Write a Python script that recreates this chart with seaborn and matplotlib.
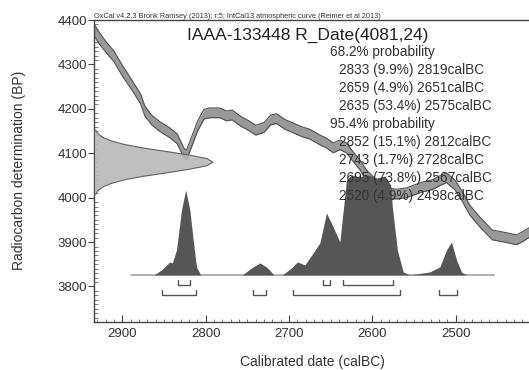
import matplotlib
matplotlib.use("Agg")
import matplotlib.pyplot as plt
from matplotlib.ticker import MultipleLocator
import seaborn as sns
import pandas as pd

# IntCal13 curve (calBC, BP centre)
curve_cal = [2934, 2928, 2920, 2910, 2900, 2888, 2878, 2873, 2865, 2855, 2843, 2834,
             2826, 2823, 2817, 2810, 2802, 2795, 2783, 2775, 2768, 2758, 2750, 2740,
             2730, 2722, 2715, 2705, 2696, 2684, 2675, 2663, 2655, 2647, 2639, 2631,
             2623, 2615, 2607, 2595, 2583, 2571, 2559, 2549, 2540, 2528, 2519, 2511,
             2501, 2493, 2483, 2471, 2456, 2439, 2427, 2420, 2400]
curve_bp = [4378, 4360, 4340, 4318, 4286, 4252, 4222, 4195, 4175, 4160, 4146, 4132,
            4100, 4096, 4125, 4160, 4188, 4191, 4191, 4184, 4186, 4172, 4164, 4152,
            4158, 4175, 4178, 4165, 4158, 4148, 4143, 4130, 4123, 4112, 4119, 4112,
            4092, 4074, 4051, 4029, 4011, 4008, 4011, 4018, 4024, 4029, 4038, 4045,
            4029, 4006, 3972, 3945, 3916, 3910, 3905, 3912, 3935]
curve_err = [13, 13, 12, 12, 12, 11, 11, 11, 11, 11, 11, 11,
             11, 11, 11, 11, 11, 11, 11, 11, 11, 11, 11, 11,
             11, 11, 11, 11, 11, 11, 11, 11, 11, 11, 11, 11,
             11, 11, 11, 11, 11, 11, 11, 11, 11, 11, 11, 11,
             11, 11, 11, 11, 11, 11, 11, 11, 11]

# measured date, drawn on the y axis
date_bp = [4153, 4145, 4137, 4129, 4121, 4113, 4105, 4097, 4089, 4081, 4073, 4065,
           4057, 4049, 4041, 4033, 4025, 4017, 4009]
date_dens = [0.01, 0.03, 0.07, 0.14, 0.25, 0.41, 0.61, 0.80, 0.95, 1.00, 0.95, 0.80,
             0.61, 0.41, 0.25, 0.14, 0.07, 0.03, 0.01]

# calibrated probability
post_cal = [2862, 2853, 2843, 2840, 2835, 2829, 2824, 2819, 2815, 2811, 2806, 2756,
            2745, 2735, 2727, 2718, 2708, 2697, 2690, 2681, 2671, 2663, 2655, 2647,
            2639, 2631, 2625, 2615, 2605, 2595, 2585, 2578, 2576, 2570, 2563, 2555,
            2531, 2519, 2511, 2505, 2499, 2493, 2487]
post_dens = [0, 0.05, 0.13, 0.12, 0.25, 0.65, 0.85, 0.65, 0.35, 0.08, 0, 0,
             0.07, 0.12, 0.08, 0, 0, 0.07, 0.13, 0.10, 0.22, 0.32, 0.62, 0.48,
             0.33, 0.95, 1.0, 0.98, 1.0, 0.97, 0.99, 0.9, 0.68, 0.25, 0.03, 0,
             0.03, 0.08, 0.25, 0.33, 0.15, 0.03, 0]

ranges_68 = [(2833, 2819), (2659, 2651), (2635, 2575)]
ranges_95 = [(2852, 2812), (2743, 2728), (2695, 2567), (2520, 2498)]

title = "IAAA-133448 R_Date(4081,24)"
lines_68 = ["2833 (9.9%) 2819calBC", "2659 (4.9%) 2651calBC", "2635 (53.4%) 2575calBC"]
lines_95 = ["2852 (15.1%) 2812calBC", "2743 (1.7%) 2728calBC",
            "2695 (73.8%) 2567calBC", "2520 (4.9%) 2498calBC"]

sns.set_theme(style="white")
plt.rcParams['font.family'] = ['Liberation Sans', 'DejaVu Sans']

fig = plt.figure(figsize=(5.29, 3.70), dpi=100)
ax = fig.add_axes([94 / 529, 48 / 370, 445 / 529, 302 / 370])

x0, x1 = 2934, 2400
base_bp = 3826
post_scale = 225
date_scale = 142

curve = pd.DataFrame({"cal": curve_cal, "bp": curve_bp, "err": curve_err})
curve["lo"] = curve["bp"] - curve["err"]
curve["hi"] = curve["bp"] + curve["err"]
ax.fill_between(curve["cal"], curve["lo"], curve["hi"], color="#999999", lw=0, zorder=2)
sns.lineplot(data=curve, x="cal", y="lo", color="#505050", lw=0.8, ax=ax, zorder=3)
sns.lineplot(data=curve, x="cal", y="hi", color="#505050", lw=0.8, ax=ax, zorder=3)

date = pd.DataFrame({"bp": date_bp, "dens": date_dens})
ax.fill_betweenx(date["bp"], x0, x0 - date["dens"] * date_scale,
                 color="#b8b8b8", alpha=0.9, edgecolor="#555555", lw=0.8, zorder=4)

post = pd.DataFrame({"cal": post_cal, "dens": post_dens})
ax.plot([2890, 2454], [base_bp, base_bp], color="#b0b0b0", lw=1.4, zorder=4)
ax.fill_between(post["cal"], base_bp, base_bp + post["dens"] * post_scale,
                color="#565656", lw=0, zorder=5)

for rows, ybar in ((ranges_68, 3804), (ranges_95, 3781)):
    for a, b in rows:
        ax.plot([a, a, b, b], [ybar + 10, ybar, ybar, ybar + 10], color="#555555", lw=1.0, zorder=5)

ax.set_xlim(x0, x1)
ax.set_ylim(3720, 4400)
ax.xaxis.set_major_locator(MultipleLocator(100))
ax.xaxis.set_minor_locator(MultipleLocator(10))
ax.yaxis.set_major_locator(MultipleLocator(100))
ax.yaxis.set_minor_locator(MultipleLocator(10))
ax.set_xticks([2900, 2800, 2700, 2600, 2500])
ax.set_yticks([3800, 3900, 4000, 4100, 4200, 4300, 4400])
ax.tick_params(axis="y", which="major", direction="out", length=4, width=0.8,
               color="#444444", labelsize=9.5, labelcolor="#333333", pad=1, left=True)
ax.tick_params(axis="y", which="minor", direction="in", length=3, width=0.6,
               color="#666666", left=True)
ax.tick_params(axis="x", which="major", direction="in", length=5, width=0.8,
               color="#444444", labelsize=9.5, labelcolor="#333333", pad=4, bottom=True)
ax.tick_params(axis="x", which="minor", direction="in", length=2.5, width=0.6,
               color="#666666", bottom=True)
for s in ax.spines.values():
    s.set_color("#444444")
    s.set_linewidth(1.0)
ax.set_xlabel("")
ax.set_ylabel("")

tc = "#333333"
fig.text(94 / 529, 1 - 18 / 370, "OxCal v4.2.3 Bronk Ramsey (2013); r:5; IntCal13 atmospheric curve (Reimer et al 2013)",
         fontsize=5.3, color=tc, ha="left", va="baseline")
fig.text(308 / 529, 1 - 35 / 370, title, fontsize=12.5, color="#222222", ha="center", va="center")
y = 52
fig.text(330 / 529, 1 - y / 370, "68.2% probability", fontsize=9.8, color=tc, va="center")
for t in lines_68:
    y += 18
    fig.text(339 / 529, 1 - y / 370, t, fontsize=9.8, color=tc, va="center")
y += 18
fig.text(330 / 529, 1 - y / 370, "95.4% probability", fontsize=9.8, color=tc, va="center")
for t in lines_95:
    y += 18
    fig.text(339 / 529, 1 - y / 370, t, fontsize=9.8, color=tc, va="center", zorder=10)

fig.text(19 / 529, 1 - 170 / 370, "Radiocarbon determination (BP)", fontsize=10,
         color=tc, rotation=90, ha="center", va="center")
fig.text(312 / 529, 1 - 362 / 370, "Calibrated date (calBC)", fontsize=10,
         color=tc, ha="center", va="center")

fig.savefig("out.png", dpi=100, facecolor="white")
